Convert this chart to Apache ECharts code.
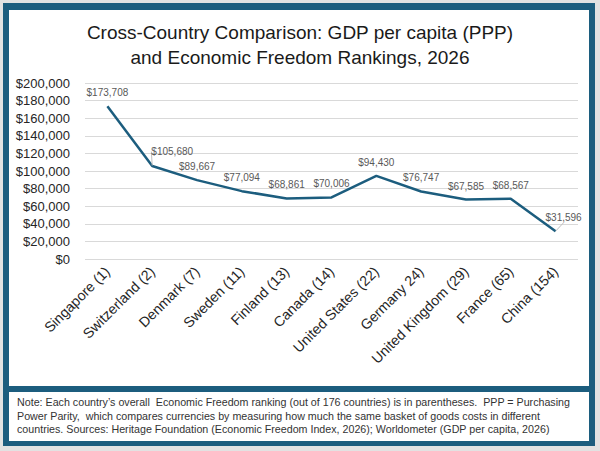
<!DOCTYPE html>
<html>
<head>
<meta charset="utf-8">
<script src="https://cdn.jsdelivr.net/npm/echarts@6/dist/echarts.min.js"></script>
<style>
  html, body { margin:0; padding:0; width:600px; height:451px; background:#e2e2e2; overflow:hidden; }
  #frame { position:absolute; left:3px; top:3px; width:592px; height:443px; background:#1c5d7e; }
  #panel { position:absolute; left:9px; top:10px; width:580px; height:376px; background:#fff; }
  #notebox { position:absolute; left:9px; top:392px; width:580px; height:49px; background:#fff; }
  #note { position:absolute; left:17px; top:396px; font-family:"Liberation Sans", Arial, sans-serif; font-size:10.7px; line-height:13.5px; color:#333; white-space:pre; }
  #chart { position:absolute; left:0; top:0; width:600px; height:451px; }
</style>
</head>
<body>
<div id="frame"></div>
<div id="panel"></div>
<div id="notebox"></div>
<div id="chart"></div>
<div id="note">Note: Each country’s overall  Economic Freedom ranking (out of 176 countries) is in parentheses.  PPP = Purchasing
Power Parity,  which compares currencies by measuring how much the same basket of goods costs in different
countries. Sources: Heritage Foundation (Economic Freedom Index, 2026); Worldometer (GDP per capita, 2026)</div>
<script>
const categories = ["Singapore (1)", "Switzerland (2)", "Denmark (7)", "Sweden (11)", "Finland (13)", "Canada (14)", "United States (22)", "Germany 24)", "United Kingdom (29)", "France (65)", "China (154)"];
const gdpPerCapita = [173708, 105680, 89667, 77094, 68861, 70006, 94430, 76747, 67585, 68567, 31596];
const yTicks = { min: 0, max: 200000, interval: 20000 };
const titleLines = ["Cross-Country Comparison: GDP per capita (PPP)", "and Economic Freedom Rankings, 2026"];

const fmt = v => '$' + v.toLocaleString('en-US');
const labelShift = { 1: { dx: 20, dy: -1 }, 10: { dx: 8, dy: 0 } };

const seriesData = gdpPerCapita.map((v, i) => labelShift[i]
  ? { value: v, labelLine: { show: true, lineStyle: { color: '#bfbfbf', width: 1 } } }
  : { value: v, labelLine: { show: false } });

const chart = echarts.init(document.getElementById('chart'), null, { renderer: 'svg' });
chart.setOption({
  backgroundColor: 'transparent',
  animation: false,
  title: {
    text: titleLines.join('\n'),
    left: 'center',
    top: 15,
    textStyle: { fontFamily: 'Liberation Sans', fontSize: 19, fontWeight: 'normal', color: '#1a1a1a', lineHeight: 25 }
  },
  grid: { left: 85, right: 22, top: 83, bottom: 192 },
  xAxis: {
    type: 'category',
    data: categories,
    boundaryGap: true,
    axisLine: { show: false },
    axisTick: { show: false },
    axisLabel: { rotate: 45, margin: 10, fontFamily: 'Liberation Sans', fontSize: 14.2, color: '#262626', interval: 0 }
  },
  yAxis: {
    type: 'value',
    min: yTicks.min, max: yTicks.max, interval: yTicks.interval,
    axisLine: { show: false },
    axisTick: { show: false },
    splitLine: { lineStyle: { color: '#d9d9d9', width: 1 } },
    axisLabel: { margin: 15, fontFamily: 'Liberation Sans', fontSize: 13, color: '#262626', formatter: v => fmt(v) }
  },
  series: [{
    type: 'line',
    data: seriesData,
    showSymbol: true,
    symbol: 'circle',
    symbolSize: 1,
    itemStyle: { color: '#1c5d7e', opacity: 0 },
    lineStyle: { color: '#1c5d7e', width: 2.5 },
    label: {
      show: true, position: 'top', distance: 8, opacity: 1,
      fontFamily: 'Liberation Sans', fontSize: 10, color: '#595959',
      formatter: p => fmt(p.value)
    },
    labelLine: { show: false, lineStyle: { color: '#bfbfbf', width: 1 } },
    labelLayout: p => labelShift[p.dataIndex] || {}
  }]
});
</script>
</body>
</html>
